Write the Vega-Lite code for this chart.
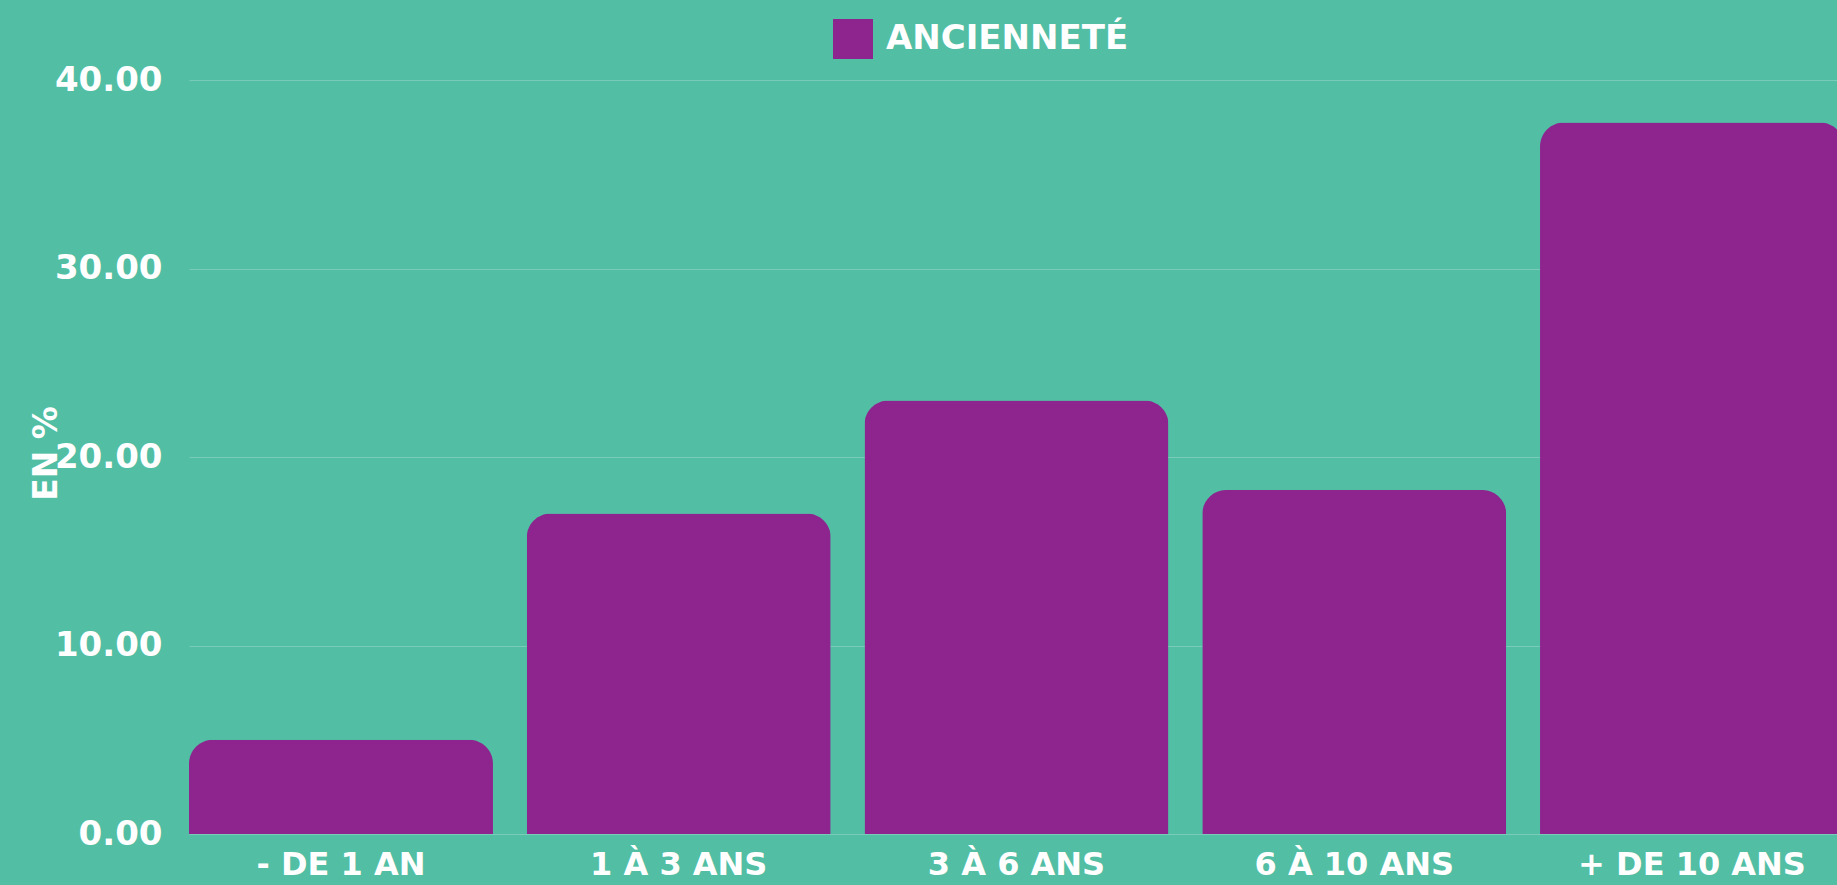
{
  "$schema": "https://vega.github.io/schema/vega-lite/v6.json",
  "autosize": {"type": "none"},
  "width": 1648,
  "height": 754,
  "padding": {"left": 189, "top": 80, "right": 0, "bottom": 51},
  "background": "#52BEA4",
  "data": {
    "values": [
      {"categorie": "- DE 1 AN", "valeur": 5.0, "serie": "ANCIENNETÉ"},
      {"categorie": "1 À 3 ANS", "valeur": 17.0, "serie": "ANCIENNETÉ"},
      {"categorie": "3 À 6 ANS", "valeur": 23.0, "serie": "ANCIENNETÉ"},
      {"categorie": "6 À 10 ANS", "valeur": 18.25, "serie": "ANCIENNETÉ"},
      {"categorie": "+ DE 10 ANS", "valeur": 37.75, "serie": "ANCIENNETÉ"}
    ]
  },
  "mark": {"type": "bar", "cornerRadiusTopLeft": 24, "cornerRadiusTopRight": 24, "clip": false},
  "encoding": {
    "x": {
      "field": "categorie",
      "type": "nominal",
      "sort": null,
      "scale": {"range": [0, 1655], "paddingInner": 0.1, "paddingOuter": 0},
      "axis": {
        "title": null,
        "labelAngle": 0,
        "labelLimit": 0,
        "domain": false,
        "ticks": false,
        "grid": false,
        "labelFont": "DejaVu Sans",
        "labelFontWeight": "bold",
        "labelFontSize": 32,
        "labelColor": "#FFFFFF",
        "labelPadding": 15
      }
    },
    "y": {
      "field": "valeur",
      "type": "quantitative",
      "scale": {"domain": [0, 40], "nice": false},
      "axis": {
        "title": "EN %",
        "values": [0, 10, 20, 30, 40],
        "format": ".2f",
        "domain": false,
        "ticks": false,
        "grid": true,
        "gridColor": "#FFFFFF",
        "gridOpacity": 0.22,
        "gridWidth": 1,
        "labelFont": "DejaVu Sans",
        "labelFontWeight": "bold",
        "labelFontSize": 34,
        "labelColor": "#FFFFFF",
        "labelPadding": 27,
        "titleFont": "DejaVu Sans",
        "titleFontWeight": "bold",
        "titleFontSize": 33,
        "titleColor": "#FFFFFF",
        "titleAngle": 270,
        "titleAlign": "center",
        "titleBaseline": "middle",
        "titleX": -143,
        "titleY": 373
      }
    },
    "color": {
      "field": "serie",
      "type": "nominal",
      "scale": {"range": ["#8E248E"]},
      "legend": {
        "title": null,
        "orient": "none",
        "legendX": 644,
        "legendY": -61,
        "symbolType": "square",
        "symbolSize": 1600,
        "symbolStrokeWidth": 0,
        "symbolOpacity": 1,
        "labelFont": "DejaVu Sans",
        "labelFontWeight": "bold",
        "labelFontSize": 34,
        "labelLimit": 0,
        "labelColor": "#FFFFFF",
        "labelOffset": 13,
        "padding": 0
      }
    }
  },
  "config": {
    "view": {"stroke": null}
  }
}
